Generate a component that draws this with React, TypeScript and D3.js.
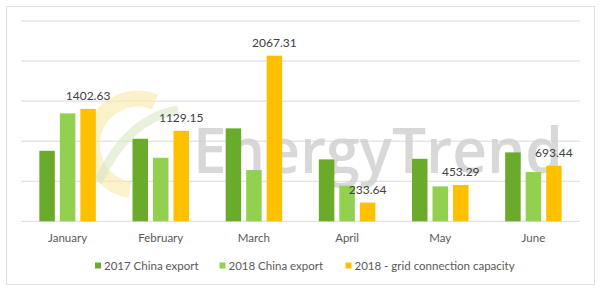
import React from "react";
import * as d3 from "d3";

const months = ["January", "February", "March", "April", "May", "June"];
const series = ["2017 China export", "2018 China export", "2018 - grid connection capacity"];
const export2017 = [880, 1030, 1160, 773, 780, 860];
const export2018 = [1347, 793, 640, 444, 436, 615];
const gridCap = [1402.63, 1129.15, 2067.31, 233.64, 453.29, 693.44];
const yTicks = [0, 500, 1000, 1500, 2000, 2500];
const colors = ["#6aab2b", "#92d050", "#ffc000"];

export default function App() {
  const W = 600, H = 292;
  const left = 21, right = 580, top = 21, bottom = 221.3;
  const x0 = d3.scaleBand<string>().domain(months).range([left, right]).padding(0);
  const x1 = d3.scaleBand<string>().domain(series).range([0, x0.bandwidth()]).paddingInner(0.244).paddingOuter(0.895);
  const y = d3.scaleLinear().domain([0, 2500]).range([bottom, top]);
  const values = [export2017, export2018, gridCap];
  const font = "Lato, 'Open Sans', sans-serif";

  const legendX = [95, 219.5, 345.5];

  return (
    <svg width={W} height={H} style={{ position: "absolute", left: 0, top: 0 }}>
      <rect x={0} y={0} width={W} height={H} fill="#fff" />
      <rect x={6.5} y={6.5} width={588} height={278} fill="#fff" stroke="#e0e0e0" />
      {yTicks.map((t) => (
        <line key={t} x1={left} x2={right} y1={y(t)} y2={y(t)} stroke="#d9d9d9" strokeWidth={1} />
      ))}
      {/* watermark */}
      <g>
        <path d="M 155 102 A 46 46 0 1 0 130 190" fill="none" stroke="#f8e7a8" strokeWidth={16} opacity={0.6} />
        <path d="M 98 182 Q 128 118 178 110" fill="none" stroke="#d9e8c4" strokeWidth={9} opacity={0.6} />
      </g>
      <text x={193} y={173} fontFamily="'Open Sans', sans-serif" fontWeight={600} fontSize={64} fill="#cfcfcf" opacity={0.8} textLength={370} lengthAdjust="spacingAndGlyphs">EnergyTrend</text>
      {months.map((m, i) => (
        <g key={m}>
          {series.map((s, j) => {
            const v = values[j][i];
            const bx = (x0(m) as number) + (x1(s) as number);
            return (
              <rect key={s} x={bx} y={y(v)} width={x1.bandwidth()} height={bottom - y(v)} fill={colors[j]} />
            );
          })}
          <text
            x={(x0(m) as number) + (x1(series[2]) as number) + x1.bandwidth() / 2}
            y={y(gridCap[i]) - 9}
            textAnchor="middle"
            fontFamily={font}
            fontSize={12}
            fill="#404040"
          >
            {gridCap[i].toFixed(2)}
          </text>
          <text
            x={(x0(m) as number) + x0.bandwidth() / 2}
            y={242}
            textAnchor="middle"
            fontFamily={font}
            fontSize={11.5}
            fill="#595959"
          >
            {m}
          </text>
        </g>
      ))}
      {series.map((s, j) => (
        <g key={s}>
          <rect x={legendX[j]} y={262.5} width={6} height={6} fill={colors[j]} />
          <text x={legendX[j] + 9} y={269.5} fontFamily={font} fontSize={11.5} fill="#595959">{s}</text>
        </g>
      ))}
    </svg>
  );
}
